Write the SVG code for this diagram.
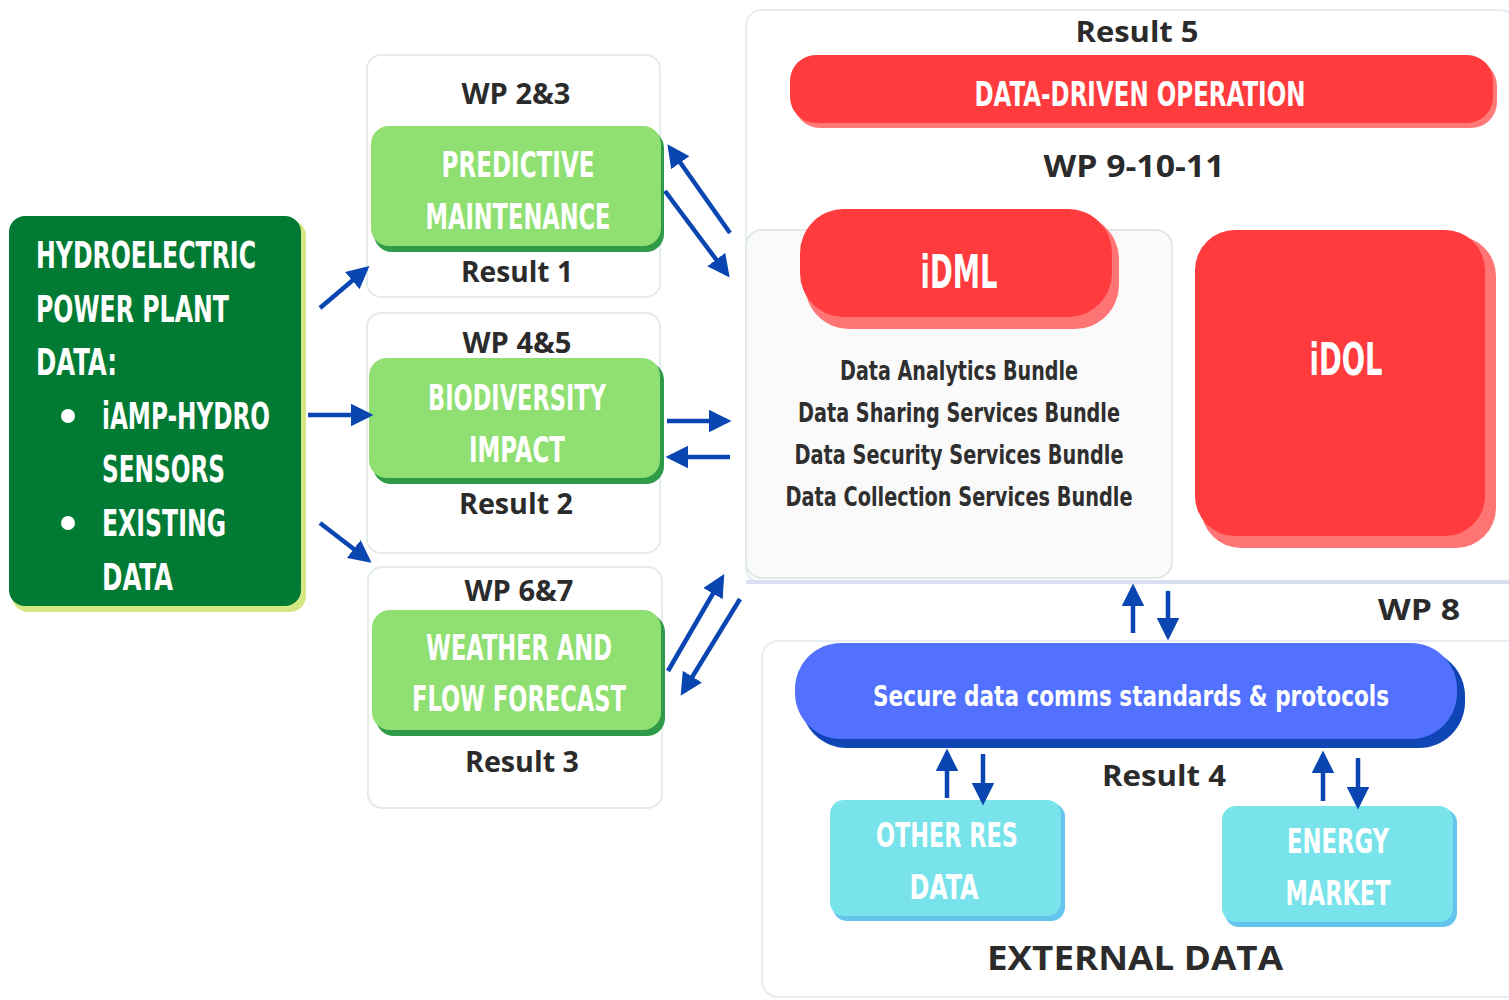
<svg xmlns="http://www.w3.org/2000/svg" width="1509" height="1000" viewBox="0 0 1509 1000">
<style>
.cond{font-family:"Liberation Sans Narrow","DejaVu Sans Condensed","Liberation Sans",sans-serif;font-weight:bold;fill:#fff}
.lbl{font-family:"Open Sans","Liberation Sans",sans-serif;font-weight:bold;fill:#2b2b2b;text-anchor:middle}
.bundle{font-family:"Liberation Sans Narrow","DejaVu Sans Condensed","Liberation Sans",sans-serif;font-weight:bold;fill:#2f2f2f;text-anchor:middle;font-size:26px}
.mid{text-anchor:middle}
.panel{fill:#fff;stroke:#e3ece6;stroke-width:2}
.gshadow{fill:#2f9a48}
.gbox{fill:#90df72}
.arr{stroke:#0a46b2;stroke-width:4.5;fill:none}
</style>
<defs>
<marker id="ah" viewBox="0 0 10 10" refX="8" refY="5" markerWidth="5" markerHeight="5" orient="auto" markerUnits="strokeWidth">
<path d="M0,0 L10,5 L0,10 z" fill="#0a46b2"/>
</marker>
</defs>
<rect width="1509" height="1000" fill="#fff"/>

<g id="source">
<rect x="12" y="220" width="294" height="392" rx="16" fill="#d3e882"/>
<rect x="9" y="216" width="292" height="390" rx="16" fill="#017a33"/>
<text class="cond" font-size="37" x="36" y="268" textLength="220" lengthAdjust="spacingAndGlyphs">HYDROELECTRIC</text>
<text class="cond" font-size="37" x="36" y="322" textLength="193" lengthAdjust="spacingAndGlyphs">POWER PLANT</text>
<text class="cond" font-size="37" x="36" y="375" textLength="81" lengthAdjust="spacingAndGlyphs">DATA:</text>
<circle cx="68" cy="416" r="7" fill="#fff"/>
<text class="cond" font-size="37" x="102" y="429" textLength="168" lengthAdjust="spacingAndGlyphs">iAMP-HYDRO</text>
<text class="cond" font-size="37" x="102" y="482" textLength="123" lengthAdjust="spacingAndGlyphs">SENSORS</text>
<circle cx="68" cy="523" r="7" fill="#fff"/>
<text class="cond" font-size="37" x="102" y="536" textLength="124" lengthAdjust="spacingAndGlyphs">EXISTING</text>
<text class="cond" font-size="37" x="102" y="590" textLength="71" lengthAdjust="spacingAndGlyphs">DATA</text>
</g>

<g id="wp23">
<rect class="panel" x="367" y="55" width="293" height="242" rx="14"/>
<text class="lbl" font-size="28" x="516" y="104" textLength="109" lengthAdjust="spacingAndGlyphs">WP 2&amp;3</text>
<rect class="gshadow" x="374" y="130" width="290" height="122" rx="18"/>
<rect class="gbox" x="371" y="126" width="290" height="120" rx="18"/>
<text class="cond mid" font-size="36" x="518" y="177" textLength="153" lengthAdjust="spacingAndGlyphs">PREDICTIVE</text>
<text class="cond mid" font-size="36" x="518" y="229" textLength="185" lengthAdjust="spacingAndGlyphs">MAINTENANCE</text>
<text class="lbl" font-size="28" x="517" y="282" textLength="112" lengthAdjust="spacingAndGlyphs">Result 1</text>
</g>

<g id="wp45">
<rect class="panel" x="367" y="313" width="293" height="240" rx="14"/>
<text class="lbl" font-size="28" x="517" y="353" textLength="109" lengthAdjust="spacingAndGlyphs">WP 4&amp;5</text>
<rect class="gshadow" x="373" y="362" width="291" height="122" rx="18"/>
<rect class="gbox" x="369" y="358" width="291" height="120" rx="18"/>
<text class="cond mid" font-size="36" x="517" y="410" textLength="178" lengthAdjust="spacingAndGlyphs">BIODIVERSITY</text>
<text class="cond mid" font-size="36" x="517" y="462" textLength="96" lengthAdjust="spacingAndGlyphs">IMPACT</text>
<text class="lbl" font-size="28" x="516" y="514" textLength="114" lengthAdjust="spacingAndGlyphs">Result 2</text>
</g>

<g id="wp67">
<rect class="panel" x="368" y="567" width="294" height="241" rx="14"/>
<text class="lbl" font-size="28" x="519" y="601" textLength="109" lengthAdjust="spacingAndGlyphs">WP 6&amp;7</text>
<rect class="gshadow" x="376" y="614" width="289" height="122" rx="18"/>
<rect class="gbox" x="372" y="610" width="289" height="120" rx="18"/>
<text class="cond mid" font-size="36" x="519" y="660" textLength="186" lengthAdjust="spacingAndGlyphs">WEATHER AND</text>
<text class="cond mid" font-size="36" x="519" y="711" textLength="214" lengthAdjust="spacingAndGlyphs">FLOW FORECAST</text>
<text class="lbl" font-size="28" x="522" y="772" textLength="114" lengthAdjust="spacingAndGlyphs">Result 3</text>
</g>

<g id="result5">
<rect x="746" y="10" width="770" height="573" rx="16" fill="#fff" stroke="#e6ecf2" stroke-width="2"/>
<line x1="746" y1="582" x2="1509" y2="582" stroke="#d8e0ef" stroke-width="4"/>
<text class="lbl" font-size="29" x="1137" y="42" textLength="123" lengthAdjust="spacingAndGlyphs">Result 5</text>
<rect x="794" y="60" width="703" height="68" rx="26" fill="#ff7878"/>
<rect x="790" y="55" width="703" height="68" rx="26" fill="#ff3b3d"/>
<text class="cond mid" font-size="34" x="1140" y="106" textLength="331" lengthAdjust="spacingAndGlyphs">DATA-DRIVEN OPERATION</text>
<text class="lbl" font-size="31" x="1134" y="177" textLength="181" lengthAdjust="spacingAndGlyphs">WP 9-10-11</text>
</g>

<g id="bundles">
<rect x="746" y="230" width="426" height="348" rx="16" fill="#fafafa" stroke="#e0ebe3" stroke-width="2"/>
<text class="bundle" x="959" y="380" textLength="238" lengthAdjust="spacingAndGlyphs">Data Analytics Bundle</text>
<text class="bundle" x="959" y="422" textLength="322" lengthAdjust="spacingAndGlyphs">Data Sharing Services Bundle</text>
<text class="bundle" x="959" y="464" textLength="329" lengthAdjust="spacingAndGlyphs">Data Security Services Bundle</text>
<text class="bundle" x="959" y="506" textLength="347" lengthAdjust="spacingAndGlyphs">Data Collection Services Bundle</text>
</g>

<g id="idml">
<rect x="805" y="215" width="314" height="114" rx="44" fill="#ff7575"/>
<rect x="800" y="209" width="312" height="108" rx="44" fill="#ff3b3d"/>
<text class="cond mid" font-size="46" x="959" y="288" textLength="77" lengthAdjust="spacingAndGlyphs">iDML</text>
</g>

<g id="idol">
<rect x="1201" y="236" width="295" height="312" rx="40" fill="#ff7575"/>
<rect x="1195" y="230" width="290" height="306" rx="40" fill="#ff3b3d"/>
<text class="cond mid" font-size="44" x="1346" y="375" textLength="73" lengthAdjust="spacingAndGlyphs">iDOL</text>
</g>

<g id="wp8">
<text class="lbl" font-size="29" x="1419" y="620" fill="#111" textLength="82" lengthAdjust="spacingAndGlyphs">WP 8</text>
</g>

<g id="external">
<rect x="762" y="641" width="760" height="356" rx="16" fill="#fff" stroke="#e6ecf2" stroke-width="2"/>
<text class="lbl" font-size="34" x="1135" y="970" textLength="296" lengthAdjust="spacingAndGlyphs">EXTERNAL DATA</text>
<text class="lbl" font-size="29" x="1164" y="786" textLength="124" lengthAdjust="spacingAndGlyphs">Result 4</text>
</g>

<g id="protocols">
<rect x="801" y="650" width="664" height="98" rx="46" fill="#0f45b5"/>
<rect x="795" y="643" width="662" height="96" rx="46" fill="#5271ff"/>
<text class="cond mid" font-size="29" x="1131" y="706" textLength="516" lengthAdjust="spacingAndGlyphs">Secure data comms standards &amp; protocols</text>
</g>

<g id="otherres">
<rect x="833" y="803" width="232" height="118" rx="14" fill="#63c4ee"/>
<rect x="830" y="800" width="231" height="116" rx="14" fill="#78e3ea"/>
<text class="cond mid" font-size="34" x="947" y="847" textLength="142" lengthAdjust="spacingAndGlyphs">OTHER RES</text>
<text class="cond mid" font-size="34" x="944" y="899" textLength="69" lengthAdjust="spacingAndGlyphs">DATA</text>
</g>

<g id="energy">
<rect x="1225" y="809" width="232" height="118" rx="14" fill="#63c4ee"/>
<rect x="1222" y="806" width="231" height="116" rx="14" fill="#78e3ea"/>
<text class="cond mid" font-size="34" x="1338" y="853" textLength="102" lengthAdjust="spacingAndGlyphs">ENERGY</text>
<text class="cond mid" font-size="34" x="1338" y="905" textLength="105" lengthAdjust="spacingAndGlyphs">MARKET</text>
</g>

<g id="connectors">
<line class="arr" x1="320" y1="308" x2="366" y2="269" marker-end="url(#ah)"/>
<line class="arr" x1="308" y1="415" x2="369" y2="415" marker-end="url(#ah)"/>
<line class="arr" x1="320" y1="523" x2="368" y2="560" marker-end="url(#ah)"/>
<line class="arr" x1="730" y1="233" x2="670" y2="148" marker-end="url(#ah)"/>
<line class="arr" x1="665" y1="191" x2="727" y2="274" marker-end="url(#ah)"/>
<line class="arr" x1="667" y1="421" x2="727" y2="421" marker-end="url(#ah)"/>
<line class="arr" x1="730" y1="457" x2="670" y2="457" marker-end="url(#ah)"/>
<line class="arr" x1="668" y1="671" x2="722" y2="578" marker-end="url(#ah)"/>
<line class="arr" x1="740" y1="599" x2="683" y2="692" marker-end="url(#ah)"/>
<line class="arr" x1="1133" y1="633" x2="1133" y2="588" marker-end="url(#ah)"/>
<line class="arr" x1="1168" y1="591" x2="1168" y2="636" marker-end="url(#ah)"/>
<line class="arr" x1="947" y1="798" x2="947" y2="753" marker-end="url(#ah)"/>
<line class="arr" x1="983" y1="754" x2="983" y2="801" marker-end="url(#ah)"/>
<line class="arr" x1="1323" y1="801" x2="1323" y2="755" marker-end="url(#ah)"/>
<line class="arr" x1="1358" y1="758" x2="1358" y2="805" marker-end="url(#ah)"/>
</g>
</svg>
